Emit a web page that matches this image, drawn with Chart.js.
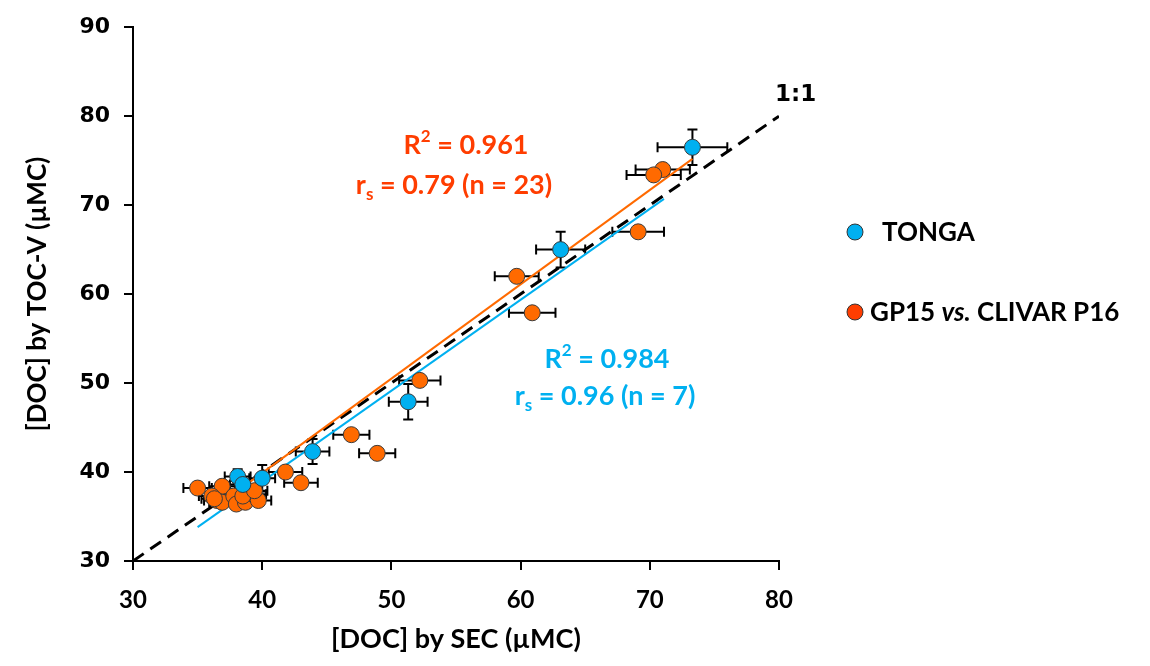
<!DOCTYPE html>
<html>
<head>
<meta charset="utf-8">
<script src="https://cdn.jsdelivr.net/npm/chart.js@4/dist/chart.umd.min.js"></script>
<style>
  html, body { margin: 0; padding: 0; background: #fff; }
  #wrap { width: 1150px; height: 666px; }
</style>
</head>
<body>
<div id="wrap"><canvas id="chart" width="1150" height="666"></canvas></div>
<script>
// TONGA samples
const tongaX = [73.3, 63.1, 51.3, 43.9, 38.1, 38.5, 40.0];
const tongaY = [76.5, 65.0, 47.9, 42.3, 39.5, 38.6, 39.3];
const tongaErrX = [2.7, 1.9, 1.5, 1.3, 1.0, 1.0, 1.0];
const tongaErrY = [2.0, 2.0, 2.0, 1.4, 0.8, 0.6, 1.5];

// GP15 vs. CLIVAR P16 samples
const gpX = [71.0, 70.3, 69.1, 59.7, 60.9, 52.2, 46.9, 48.9, 41.8, 43.0, 35.0, 36.9, 36.1, 36.5, 36.9, 37.8, 38.0, 38.7, 39.3, 39.7, 38.5, 39.4, 36.3];
const gpY = [74.0, 73.4, 67.0, 62.0, 57.9, 50.3, 44.2, 42.1, 40.0, 38.8, 38.2, 38.4, 37.3, 36.8, 36.6, 37.3, 36.4, 36.6, 37.5, 36.8, 37.3, 37.9, 37.0];
const gpErrX = [2.1, 2.1, 2.0, 1.7, 1.8, 1.6, 1.4, 1.4, 1.3, 1.3, 1.1, 1.0, 1.0, 1.0, 1.0, 1.0, 1.0, 1.0, 1.0, 1.0, 1.0, 1.0, 1.0];
const gpErrY = [0, 0, 0, 0, 0, 0, 0, 0, 0, 0, 0, 0.5, 0, 0, 0, 0.5, 0, 0, 0.6, 0, 0, 0.5, 0];

// regression lines and 1:1 line (endpoints)
const gpFitX = [36.8, 73.3];
const gpFitY = [36.5, 75.2];
const tongaFitX = [35.0, 71.1];
const tongaFitY = [33.8, 70.7];
const oneToOneX = [30, 80];
const oneToOneY = [30, 80];

const xTicks = [30, 40, 50, 60, 70, 80];
const yTicks = [30, 40, 50, 60, 70, 80, 90];

const BLUE = "#00B0F0";
const ORANGE = "#FF6A00";
const RED = "#FF3D00";

const toPts = (xs, ys) => xs.map((x, i) => ({ x: x, y: ys[i] }));

// error bars under the points
const errorBars = {
  id: "errorBars",
  beforeDatasetsDraw(chart) {
    const ctx = chart.ctx;
    const xs = chart.scales.x, ys = chart.scales.y;
    const sets = [
      [gpX, gpY, gpErrX, gpErrY],
      [tongaX, tongaY, tongaErrX, tongaErrY],
    ];
    ctx.save();
    ctx.strokeStyle = "#000";
    ctx.lineWidth = 2;
    const cap = 5;
    sets.forEach(([X, Y, EX, EY]) => {
      X.forEach((x, i) => {
        const px = xs.getPixelForValue(x), py = ys.getPixelForValue(Y[i]);
        if (EX[i] > 0) {
          const l = xs.getPixelForValue(x - EX[i]), r = xs.getPixelForValue(x + EX[i]);
          ctx.beginPath();
          ctx.moveTo(l, py); ctx.lineTo(r, py);
          ctx.moveTo(l, py - cap); ctx.lineTo(l, py + cap);
          ctx.moveTo(r, py - cap); ctx.lineTo(r, py + cap);
          ctx.stroke();
        }
        if (EY[i] > 0) {
          const t = ys.getPixelForValue(Y[i] + EY[i]), b = ys.getPixelForValue(Y[i] - EY[i]);
          ctx.beginPath();
          ctx.moveTo(px, t); ctx.lineTo(px, b);
          ctx.moveTo(px - cap, t); ctx.lineTo(px + cap, t);
          ctx.moveTo(px - cap, b); ctx.lineTo(px + cap, b);
          ctx.stroke();
        }
      });
    });
    ctx.restore();
  },
};

// text labels: stats, 1:1, legend
const FONT = "Lato, 'Open Sans', sans-serif";
const small = (size) => Math.round(size * 0.62);

// centred run of text pieces: [text, dy, isSmall]
function drawRuns(ctx, cx, cy, runs, color, size) {
  let total = 0;
  runs.forEach(([t, , sm]) => {
    ctx.font = "bold " + (sm ? small(size) : size) + "px " + FONT;
    total += ctx.measureText(t).width;
  });
  let x = cx - total / 2;
  ctx.fillStyle = color;
  ctx.textAlign = "left";
  ctx.textBaseline = "middle";
  runs.forEach(([t, dy, sm]) => {
    ctx.font = "bold " + (sm ? small(size) : size) + "px " + FONT;
    ctx.fillText(t, x, cy + dy * size);
    x += ctx.measureText(t).width;
  });
}

const labels = {
  id: "labels",
  afterDraw(chart) {
    const ctx = chart.ctx;
    ctx.save();

    drawRuns(ctx, 466, 145, [["R", 0, false], ["2", -0.3, true], [" = 0.961", 0, false]], RED, 27);
    drawRuns(ctx, 454, 185, [["r", 0, false], ["s", 0.35, true], [" = 0.79 (n = 23)", 0, false]], RED, 27);
    drawRuns(ctx, 607, 359, [["R", 0, false], ["2", -0.3, true], [" = 0.984", 0, false]], BLUE, 27);
    drawRuns(ctx, 605, 396, [["r", 0, false], ["s", 0.35, true], [" = 0.96 (n = 7)", 0, false]], BLUE, 27);

    ctx.fillStyle = "#000";
    ctx.textAlign = "left";
    ctx.textBaseline = "middle";
    ctx.font = "bold 23px 'DejaVu Sans', sans-serif";
    ctx.fillText("1:1", 775, 95);

    // legend
    ctx.lineWidth = 1;
    ctx.strokeStyle = "#333";
    ctx.beginPath(); ctx.arc(855, 232, 8, 0, Math.PI * 2);
    ctx.fillStyle = BLUE; ctx.fill(); ctx.stroke();
    ctx.beginPath(); ctx.arc(855, 312, 8, 0, Math.PI * 2);
    ctx.fillStyle = RED; ctx.fill(); ctx.stroke();

    ctx.fillStyle = "#000";
    ctx.font = "bold 26px " + FONT;
    ctx.fillText("TONGA", 882, 233);
    let x = 870;
    ctx.fillText("GP15 ", x, 313);
    x += ctx.measureText("GP15 ").width;
    ctx.font = "italic bold 26px " + FONT;
    ctx.fillText("vs.", x, 313);
    x += ctx.measureText("vs.").width;
    ctx.font = "bold 26px " + FONT;
    ctx.fillText(" CLIVAR P16", x, 313);
    ctx.restore();
  },
};

new Chart(document.getElementById("chart").getContext("2d"), {
  type: "scatter",
  data: {
    datasets: [
      {
        label: "1:1",
        data: toPts(oneToOneX, oneToOneY),
        showLine: true,
        borderColor: "#000",
        borderWidth: 3,
        borderDash: [13, 8],
        pointRadius: 0,
        order: 5,
      },
      {
        label: "TONGA fit",
        data: toPts(tongaFitX, tongaFitY),
        showLine: true,
        borderColor: BLUE,
        borderWidth: 2,
        pointRadius: 0,
        order: 4,
      },
      {
        label: "GP15 fit",
        data: toPts(gpFitX, gpFitY),
        showLine: true,
        borderColor: ORANGE,
        borderWidth: 2,
        pointRadius: 0,
        order: 4,
      },
      {
        label: "GP15 vs. CLIVAR P16",
        data: toPts(gpX, gpY),
        backgroundColor: ORANGE,
        borderColor: "#3a3a3a",
        borderWidth: 1,
        pointRadius: 8,
        order: 2,
      },
      {
        label: "TONGA",
        data: toPts(tongaX, tongaY),
        backgroundColor: BLUE,
        borderColor: "#3a3a3a",
        borderWidth: 1,
        pointRadius: 8,
        order: 1,
      },
    ],
  },
  options: {
    responsive: false,
    animation: false,
    layout: { padding: { top: 20, right: 371, left: 0, bottom: 0 } },
    plugins: { legend: { display: false }, tooltip: { enabled: false } },
    scales: {
      x: {
        type: "linear",
        min: 30,
        max: 80,
        afterBuildTicks: (s) => { s.ticks = xTicks.map((v) => ({ value: v })); },
        afterFit: (s) => { s.height = 105; },
        ticks: { color: "#000", padding: 16, font: { family: FONT, size: 24, weight: "bold" } },
        grid: { drawOnChartArea: false, tickLength: 9, color: "#000", lineWidth: 2 },
        border: { color: "#000", width: 2 },
        title: {
          display: true,
          text: "[DOC] by SEC (\u00B5MC)",
          color: "#000",
          font: { family: FONT, size: 27, weight: "bold" },
          padding: { top: 0, bottom: 11 },
        },
      },
      y: {
        type: "linear",
        min: 30,
        max: 90,
        afterBuildTicks: (s) => { s.ticks = yTicks.map((v) => ({ value: v })); },
        afterFit: (s) => { s.width = 133; },
        ticks: { color: "#000", padding: 14, font: { family: "'DejaVu Sans', sans-serif", size: 22, weight: "bold" } },
        grid: { drawOnChartArea: false, tickLength: 9, color: "#000", lineWidth: 2 },
        border: { color: "#000", width: 2 },
        title: {
          display: true,
          text: "[DOC] by TOC-V (\u00B5MC)",
          color: "#000",
          font: { family: FONT, size: 26, weight: "bold" },
          padding: { top: 22, bottom: 0 },
        },
      },
    },
  },
  plugins: [errorBars, labels],
});
</script>
</body>
</html>
